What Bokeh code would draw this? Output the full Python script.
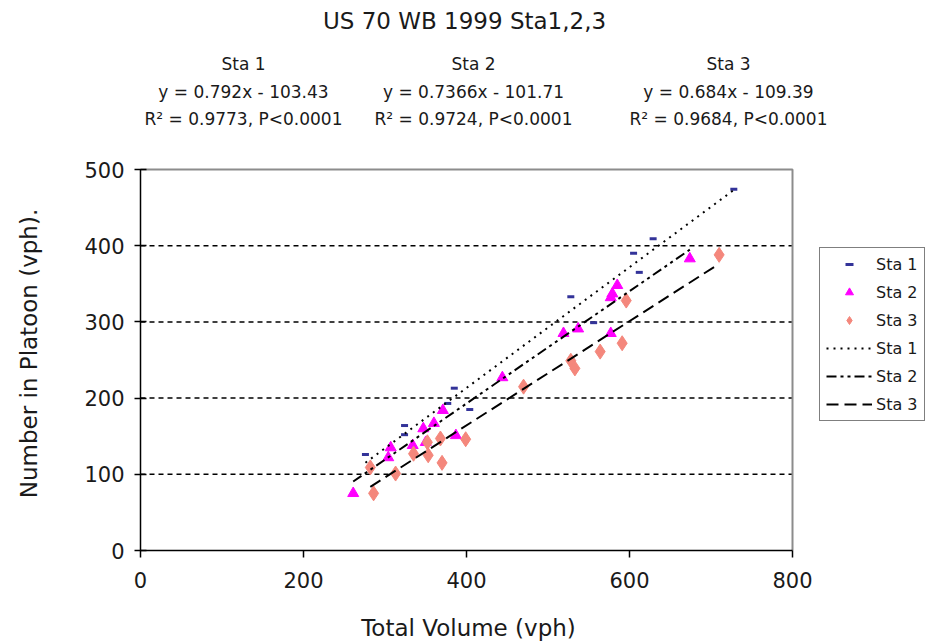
import math
from bokeh.plotting import figure
from bokeh.models import Legend, LegendItem, Label, FixedTicker, Range1d
from bokeh.embed import file_html
from bokeh.resources import INLINE

# ---- data ----
sta1_x = [276, 324, 324, 377, 385, 404, 528, 556, 605, 612, 629, 728]
sta1_y = [126, 164, 152, 193, 213, 185, 333, 299, 390, 365, 409, 474]

sta2_x = [261, 304, 307, 334, 347, 350, 360, 371, 387, 444, 519, 537, 577, 577, 579, 585, 674]
sta2_y = [75, 122, 135, 138, 160, 142, 167, 184, 151, 227, 285, 291, 285, 332, 337, 348, 383]

sta3_x = [282, 286, 313, 335, 352, 353, 370, 368, 399, 470, 528, 533, 564, 591, 596, 710]
sta3_y = [109, 75, 101, 127, 142, 125, 115, 147, 146, 215, 249, 239, 261, 272, 328, 388]

names = ["Sta 1", "Sta 2", "Sta 3"]
slopes = [0.792, 0.7366, 0.684]
intercepts = [-103.43, -101.71, -109.39]
eq_texts = ["y = 0.792x - 103.43", "y = 0.7366x - 101.71", "y = 0.684x - 109.39"]
r2_texts = ["R\u00b2 = 0.9773, P<0.0001", "R\u00b2 = 0.9724, P<0.0001", "R\u00b2 = 0.9684, P<0.0001"]
title_text = "US 70 WB 1999 Sta1,2,3"
x_label = "Total Volume (vph)"
y_label = "Number in Platoon (vph)."
x_ticks = [0, 200, 400, 600, 800]
y_ticks = [0, 100, 200, 300, 400, 500]
grid_ticks = [100, 200, 300, 400]

# ---- layout constants (pixels) ----
W, H = 930, 643
LEFT, BOTTOM_PX = 140, 550          # canvas px of data origin
PLOT_RIGHT, PLOT_TOP = 792, 169     # canvas px of (800, 500)
XMAX, YMAX = x_ticks[-1], y_ticks[-1]
sx = (PLOT_RIGHT - LEFT) / XMAX
sy = (BOTTOM_PX - PLOT_TOP) / YMAX

def dx(px):
    return (px - LEFT) / sx

def dy(py):
    return (BOTTOM_PX - py) / sy

FONT = "DejaVu Sans"
TXT = "#1a1a1a"

p = figure(width=W, height=H,
           x_range=Range1d(dx(0), dx(W)), y_range=Range1d(dy(H), dy(0)),
           output_backend="svg", toolbar_location=None,
           min_border=0, min_border_left=0, min_border_right=0, min_border_top=0,
           min_border_bottom=0)
p.background_fill_color = "white"
p.border_fill_color = "white"
p.outline_line_color = None

p.xaxis.ticker = FixedTicker(ticks=x_ticks)
p.yaxis.ticker = FixedTicker(ticks=y_ticks)
p.xaxis.bounds = (0, XMAX)
p.yaxis.bounds = (0, YMAX)
p.xaxis.fixed_location = 0
p.yaxis.fixed_location = 0
for ax in (p.xaxis, p.yaxis):
    ax.axis_line_color = "black"
    ax.axis_line_width = 1.5
    ax.major_tick_line_color = "black"
    ax.major_tick_line_width = 1.5
    ax.minor_tick_line_color = None
    ax.major_label_text_font = FONT
    ax.major_label_text_font_size = "21px"
    ax.major_label_text_color = TXT
p.xaxis.major_tick_in = 0
p.xaxis.major_tick_out = 7
p.xaxis.major_label_standoff = 14
p.yaxis.major_tick_in = 6
p.yaxis.major_tick_out = 6
p.yaxis.major_label_standoff = 10

p.xgrid.visible = False
p.ygrid.visible = False

# dashed horizontal gridlines limited to the plot area
p.segment(x0=[0] * len(grid_ticks), x1=[XMAX] * len(grid_ticks), y0=grid_ticks, y1=grid_ticks,
          line_color="black", line_dash="5 4", line_width=1.5)
# grey plot-area border (top and right)
p.line([0, XMAX, XMAX], [YMAX, YMAX, 0], line_color="#8c8c8c", line_width=2)

r1 = p.scatter(sta1_x, sta1_y, marker="dash", size=7, line_width=3, line_color="#333399")
r2 = p.scatter(sta2_x, sta2_y, marker="triangle", size=11, fill_color="#FF00FF", line_color="#FF00FF")
r3 = p.scatter(sta3_x, sta3_y, marker="diamond", size=15, fill_color="#F4877C", line_color="#F4877C")

dashes = ["2 5", "10 4 3 4 3 4", "12 6"]
xs_all = [sta1_x, sta2_x, sta3_x]
line_rs = []
for xs, m, b, d in zip(xs_all, slopes, intercepts, dashes):
    x0, x1 = min(xs), max(xs)
    lr = p.line([x0, x1], [m * x0 + b, m * x1 + b], line_color="black", line_width=2, line_dash=d)
    line_rs.append(lr)

items = [LegendItem(label=names[0], renderers=[r1]),
         LegendItem(label=names[1], renderers=[r2]),
         LegendItem(label=names[2], renderers=[r3])]
for n, lr in zip(names, line_rs):
    items.append(LegendItem(label=n, renderers=[lr]))
legend = Legend(items=items, location=(819, H - 421))
legend.border_line_color = "black"
legend.border_line_width = 1
legend.background_fill_color = "white"
legend.background_fill_alpha = 1
legend.label_text_font = FONT
legend.label_text_font_size = "16px"
legend.label_text_color = TXT
legend.padding = 6
legend.spacing = 8
legend.glyph_height = 20
legend.label_height = 20
legend.glyph_width = 46
legend.label_standoff = 4
legend.margin = 0
p.add_layout(legend, "center")

# axis titles
p.add_layout(Label(x=dx(468), y=dy(627), text=x_label, text_font=FONT, text_font_size="23px",
                   text_color=TXT, text_align="center", text_baseline="middle"))
p.add_layout(Label(x=dx(28), y=dy(353), text=y_label, text_font=FONT, text_font_size="23px",
                   text_color=TXT, text_align="center", text_baseline="middle", angle=math.pi / 2))

# title and regression annotations
p.add_layout(Label(x=dx(464), y=dy(20), text=title_text, text_font=FONT, text_font_size="23px",
                   text_color=TXT, text_align="center", text_baseline="middle"))
col_px = [243, 473, 728]
for cx, n, e, r in zip(col_px, names, eq_texts, r2_texts):
    for py, t in ((63, n), (91, e), (118, r)):
        p.add_layout(Label(x=dx(cx), y=dy(py), text=t, text_font=FONT, text_font_size="17px",
                           text_color=TXT, text_align="center", text_baseline="middle"))

open("out.html", "w").write(file_html(p, INLINE))
